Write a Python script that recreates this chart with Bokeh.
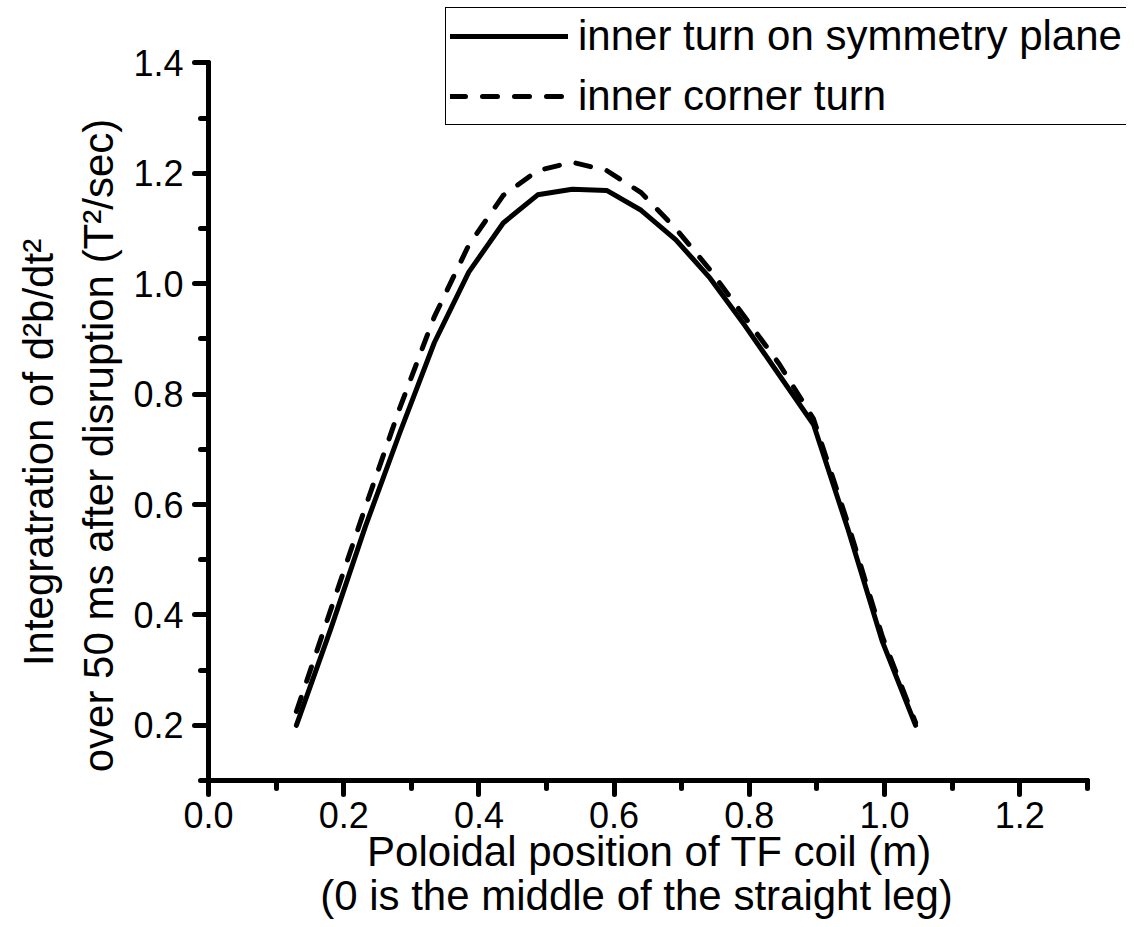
import math
from bokeh.plotting import figure
from bokeh.models import Range1d, FixedTicker, Legend, LegendItem, Label, PrintfTickFormatter
from bokeh.embed import file_html
from bokeh.resources import INLINE

# Poloidal position of TF coil (m)
x_pos = [0.130, 0.181, 0.232, 0.283, 0.334, 0.385, 0.436, 0.487, 0.538, 0.589,
         0.640, 0.691, 0.742, 0.793, 0.844, 0.895, 0.946, 0.997, 1.046]
# inner turn on symmetry plane
sym_plane = [0.200, 0.375, 0.560, 0.730, 0.893, 1.021, 1.110, 1.161, 1.171, 1.169,
             1.133, 1.080, 1.010, 0.925, 0.835, 0.745, 0.555, 0.351, 0.200]
# inner corner turn
corner = [0.225, 0.410, 0.595, 0.775, 0.940, 1.070, 1.160, 1.205, 1.220, 1.205,
          1.165, 1.100, 1.025, 0.940, 0.855, 0.755, 0.565, 0.360, 0.205]

x_major = [0.0, 0.2, 0.4, 0.6, 0.8, 1.0, 1.2]
x_minor = [0.1, 0.3, 0.5, 0.7, 0.9, 1.1, 1.3]
y_major = [0.2, 0.4, 0.6, 0.8, 1.0, 1.2, 1.4]
y_minor = [0.1, 0.3, 0.5, 0.7, 0.9, 1.1, 1.3]

x_title = "Poloidal position of TF coil (m)"
x_subtitle = "(0 is the middle of the straight leg)"
y_title = "Integratration of d\u00b2b/dt\u00b2"
y_subtitle = "over 50 ms after disruption (T\u00b2/sec)"
series_names = ["inner turn on symmetry plane", "inner corner turn"]

FONT = "Liberation Sans"
W, H = 1126, 919
X0_PX, XSCALE = 208.0, 676.0      # pixel of x=0, px per unit
Y0_PX, YSCALE = 780.0, 552.0      # pixel of y=0.1, px per unit


def dx(px):
    return (px - X0_PX) / XSCALE


def dy(py):
    return 0.1 + (Y0_PX - py) / YSCALE


p = figure(width=W, height=H, x_range=Range1d(dx(0), dx(W)), y_range=Range1d(dy(H), dy(0)),
           output_backend="svg", toolbar_location=None,
           min_border_left=0, min_border_right=0, min_border_top=0, min_border_bottom=0)
p.outline_line_color = None
p.xgrid.visible = False
p.ygrid.visible = False
p.background_fill_color = "white"
p.border_fill_color = "white"

p.xaxis.ticker = FixedTicker(ticks=x_major, minor_ticks=x_minor)
p.yaxis.ticker = FixedTicker(ticks=y_major, minor_ticks=y_minor)
p.xaxis.fixed_location = 0.1
p.yaxis.fixed_location = 0.0
p.xaxis.bounds = (0.0, 1.3)
p.yaxis.bounds = (0.1, 1.4)
for ax in (p.xaxis, p.yaxis):
    ax.formatter = PrintfTickFormatter(format="%.1f")
    ax.axis_line_width = 5
    ax.axis_line_color = "black"
    ax.axis_line_cap = "round"
    ax.major_tick_line_width = 5
    ax.minor_tick_line_width = 5
    ax.major_tick_line_cap = "round"
    ax.minor_tick_line_cap = "round"
    ax.major_tick_in = 0
    ax.major_tick_out = 14
    ax.minor_tick_in = 0
    ax.minor_tick_out = 8
    ax.major_tick_line_color = "black"
    ax.minor_tick_line_color = "black"
    ax.major_label_text_font = FONT
    ax.major_label_text_font_size = "36px"
    ax.major_label_text_color = "black"

p.xaxis.major_label_standoff = 7
p.yaxis.major_label_standoff = 11

r1 = p.line(x_pos, sym_plane, line_width=5, line_color="black", line_join="round", line_cap="round")
r2 = p.line(x_pos, corner, line_width=5, line_color="black", line_dash="15 17",
            line_join="round", line_cap="round")

# axis titles
common = dict(text_font=FONT, text_font_size="42px", text_align="center",
              text_baseline="middle", text_color="black")
p.add_layout(Label(x=dx(649), y=dy(851), text=x_title, **common))
p.add_layout(Label(x=dx(636), y=dy(895), text=x_subtitle, **common))
p.add_layout(Label(x=dx(38), y=dy(452), text=y_title, angle=math.pi / 2, **common))
p.add_layout(Label(x=dx(98), y=dy(445), text=y_subtitle, angle=math.pi / 2, **common))

legend = Legend(items=[LegendItem(label=series_names[0], renderers=[r1]),
                       LegendItem(label=series_names[1], renderers=[r2])],
                location=(445, H - 125))
legend.label_text_font = FONT
legend.label_text_font_size = "42px"
legend.label_text_color = "black"
legend.glyph_width = 118
legend.glyph_height = 44
legend.label_height = 44
legend.label_standoff = 10
legend.spacing = 12
legend.padding = 4
legend.margin = 0
legend.border_line_color = "black"
legend.border_line_alpha = 1.0
legend.border_line_width = 1.5
legend.background_fill_color = "white"
legend.background_fill_alpha = 1.0
p.add_layout(legend)

open("out.html", "w").write(file_html(p, INLINE))
